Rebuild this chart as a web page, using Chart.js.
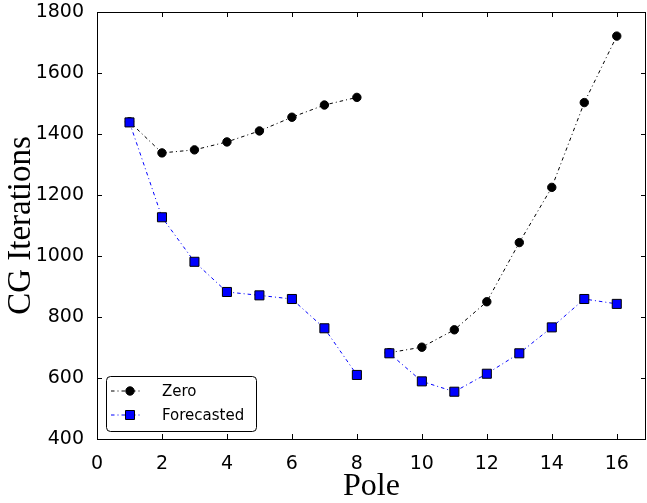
<!DOCTYPE html>
<html>
<head>
<meta charset="utf-8">
<script src="https://cdn.jsdelivr.net/npm/chart.js@4/dist/chart.umd.min.js"></script>
<style>
  html, body { margin: 0; padding: 0; background: #fff; }
  canvas { display: block; }
</style>
</head>
<body>
<canvas id="poleChart" width="647" height="503"></canvas>
<script>
// CG iterations per pole, zero initial guess vs forecasted initial guess
const poles = [1, 2, 3, 4, 5, 6, 7, 8, 9, 10, 11, 12, 13, 14, 15, 16]
const zeroIters = [1440, 1338, 1348, 1374, 1410, 1455, 1495, 1520, 683, 701, 758, 850, 1044, 1225, 1503, 1721]
const forecastIters = [1438, 1127, 981, 882, 871, 859, 763, 610, 681, 589, 555, 614, 681, 766, 859, 843]
const seriesNames = ['Zero', 'Forecasted']
const breakAfterPole = 8   // restart between pole 8 and 9, no line joins them
const xTicks = [0, 2, 4, 6, 8, 10, 12, 14, 16]
const yTicks = [400, 600, 800, 1000, 1200, 1400, 1600, 1800]

function toPoints(values) {
  return poles.map((p, i) => ({ x: p, y: values[i] }))
}

const dashDot = [3.5, 3, 1, 3]

// hide the segment that would join the two runs
const splitSegment = color => ({
  borderColor: ctx => ctx.p0.parsed.x === breakAfterPole ? 'rgba(0,0,0,0)' : color
})

// inward tick marks on all four sides + full frame
const frameTicks = {
  id: 'frameTicks',
  afterDatasetsDraw(chart) {
    const { ctx, chartArea: a, scales } = chart
    const len = 5
    ctx.save()
    ctx.strokeStyle = '#000'
    ctx.lineWidth = 1
    ctx.beginPath()
    scales.x.ticks.forEach(t => {
      const px = Math.round(scales.x.getPixelForValue(t.value)) + 0.5
      ctx.moveTo(px, a.bottom); ctx.lineTo(px, a.bottom - len)
      ctx.moveTo(px, a.top); ctx.lineTo(px, a.top + len)
    })
    scales.y.ticks.forEach(t => {
      const py = Math.round(scales.y.getPixelForValue(t.value)) + 0.5
      ctx.moveTo(a.left, py); ctx.lineTo(a.left + len, py)
      ctx.moveTo(a.right, py); ctx.lineTo(a.right - len, py)
    })
    ctx.stroke()
    ctx.strokeRect(Math.round(a.left) + 0.5, Math.round(a.top) + 0.5,
      Math.round(a.right - a.left) - 1, Math.round(a.bottom - a.top))
    ctx.restore()
  }
}

// legend box in the lower left of the plot
const boxLegend = {
  id: 'boxLegend',
  afterDraw(chart) {
    const { ctx, chartArea: a } = chart
    const x0 = a.left + 9, y0 = a.bottom - 63, w = 150, h = 55
    ctx.save()
    ctx.fillStyle = '#fff'
    ctx.strokeStyle = '#000'
    ctx.lineWidth = 1
    ctx.beginPath()
    ctx.roundRect(x0 + 0.5, y0 + 0.5, w, h, 4)
    ctx.fill()
    ctx.stroke()
    ctx.font = '15px "DejaVu Sans"'
    ctx.textBaseline = 'middle'
    chart.data.datasets.forEach((ds, i) => {
      const cy = y0 + 15 + i * 24
      ctx.strokeStyle = ds.borderColor
      ctx.setLineDash(dashDot)
      ctx.beginPath()
      ctx.moveTo(x0 + 5, cy); ctx.lineTo(x0 + 36, cy)
      ctx.stroke()
      ctx.setLineDash([])
      ctx.fillStyle = ds.pointBackgroundColor
      ctx.strokeStyle = '#000'
      ctx.beginPath()
      if (ds.pointStyle === 'rect') {
        ctx.rect(x0 + 19.5, cy - 4.5, 9, 9)
      } else {
        ctx.arc(x0 + 24, cy, 4.2, 0, Math.PI * 2)
      }
      ctx.fill()
      ctx.stroke()
      ctx.fillStyle = '#000'
      ctx.fillText(seriesNames[i], x0 + 56, cy + 1)
    })
    ctx.restore()
  }
}

Chart.defaults.color = '#000'
Chart.defaults.font.family = '"DejaVu Sans", sans-serif'

const data = {
  datasets: [{
    label: seriesNames[0],
    data: toPoints(zeroIters),
    borderColor: '#000',
    borderWidth: 1,
    borderDash: dashDot,
    pointStyle: 'circle',
    pointRadius: 4.2,
    pointBackgroundColor: '#000',
    pointBorderColor: '#000',
    pointBorderWidth: 1,
    segment: splitSegment('#000'),
    order: 1
  }, {
    label: seriesNames[1],
    data: toPoints(forecastIters),
    borderColor: '#0000ff',
    borderWidth: 1,
    borderDash: dashDot,
    pointStyle: 'rect',
    pointRadius: 6.4,
    pointBackgroundColor: '#0000ff',
    pointBorderColor: '#000',
    pointBorderWidth: 1,
    segment: splitSegment('#0000ff'),
    order: 0
  }]
}

const config = {
  type: 'line',
  data: data,
  options: {
    responsive: false,
    animation: false,
    events: [],
    layout: { autoPadding: false, padding: { top: 12, right: 1, left: 0, bottom: 0 } },
    plugins: {
      legend: { display: false },
      tooltip: { enabled: false }
    },
    scales: {
      x: {
        type: 'linear',
        min: 0,
        max: 16.9,
        grid: { display: false },
        border: { display: false },
        afterBuildTicks: scale => { scale.ticks = xTicks.map(v => ({ value: v })) },
        ticks: { padding: 6, font: { size: 19 }, callback: v => String(v) },
        title: {
          display: true,
          text: 'Pole',
          font: { family: '"Liberation Serif", serif', size: 32, lineHeight: 1 },
          padding: { top: 0, bottom: 0 }
        },
        afterFit: scale => {
          scale.height = 64
          scale.paddingLeft = 0
          scale.paddingRight = 0
        }
      },
      y: {
        min: 400,
        max: 1800,
        grid: { display: false },
        border: { display: false },
        afterBuildTicks: scale => { scale.ticks = yTicks.map(v => ({ value: v })) },
        ticks: { padding: 5, font: { size: 19 }, callback: v => String(v) },
        title: {
          display: true,
          text: 'CG Iterations',
          font: { family: '"Liberation Serif", serif', size: 33, lineHeight: 1 },
          padding: { top: 5, bottom: 0 }
        },
        afterFit: scale => {
          scale.width = 97
          scale.paddingTop = 0
          scale.paddingBottom = 0
        }
      }
    }
  },
  plugins: [frameTicks, boxLegend]
}

const poleChart = new Chart(
  document.querySelector('#poleChart'),
  config
)
</script>
</body>
</html>
